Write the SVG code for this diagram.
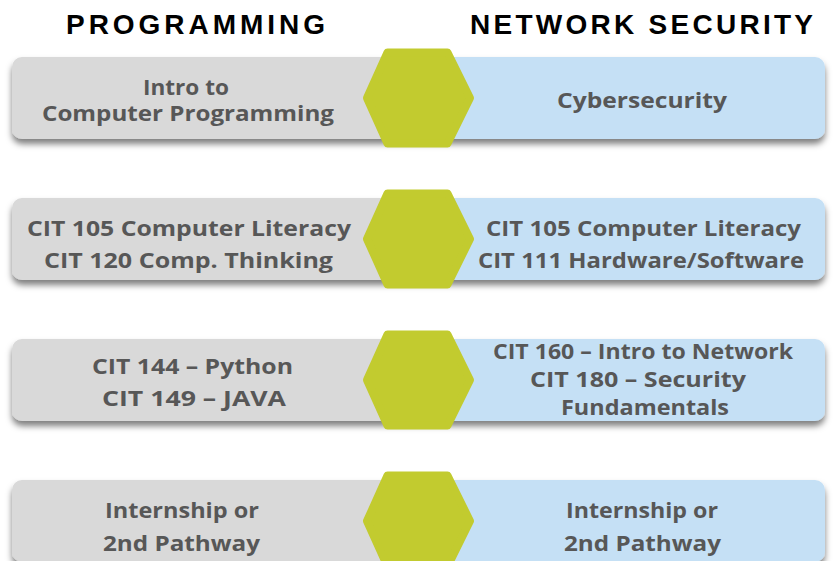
<svg xmlns="http://www.w3.org/2000/svg" width="833" height="561" viewBox="0 0 833 561">
<defs>
<style>
.title{font-family:"Liberation Sans",Arial,sans-serif;font-weight:bold;font-size:28px;fill:#000}
.t{font-family:"Open Sans","Liberation Sans",Arial,sans-serif;font-weight:bold;font-size:22px;fill:#575757}
.gray{fill:#d9d9d9}
.blue{fill:#c5e0f5}
.hex{fill:#c2cb2f;stroke:#c2cb2f;stroke-width:8;stroke-linejoin:round}
</style>
<filter id="sh" x="-5%" y="-20%" width="110%" height="160%">
<feDropShadow dx="0" dy="5" stdDeviation="3" flood-color="#000" flood-opacity="0.5"/>
</filter>
<g id="bars">
<rect class="gray" x="12" y="0" width="420" height="82" rx="10"/>
<rect class="blue" x="410" y="0" width="415" height="82" rx="10"/>
</g>
<polygon id="hexshape" class="hex" points="367,41 387.5,-4.5 447.5,-4.5 470,41 447.5,86.5 387.5,86.5"/>
</defs>
<rect width="833" height="561" fill="#fff"/>
<g id="titles">
<text class="title" x="66" y="34" textLength="259" lengthAdjust="spacing">PROGRAMMING</text>
<text class="title" x="470" y="34" textLength="343" lengthAdjust="spacing">NETWORK SECURITY</text>
</g>
<g id="connectors"></g>
<g id="row1">
<use href="#bars" y="57" filter="url(#sh)"/>
<use href="#hexshape" y="57"/>
<text class="t" x="143" y="95" textLength="86" lengthAdjust="spacingAndGlyphs">Intro to</text>
<text class="t" x="42" y="121" textLength="292" lengthAdjust="spacingAndGlyphs">Computer Programming</text>
<text class="t" x="557" y="108" textLength="170" lengthAdjust="spacingAndGlyphs">Cybersecurity</text>
</g>
<g id="row2">
<use href="#bars" y="198" filter="url(#sh)"/>
<use href="#hexshape" y="198"/>
<text class="t" x="27" y="236" textLength="324" lengthAdjust="spacingAndGlyphs">CIT 105 Computer Literacy</text>
<text class="t" x="44" y="268" textLength="289" lengthAdjust="spacingAndGlyphs">CIT 120 Comp. Thinking</text>
<text class="t" x="486" y="236" textLength="315" lengthAdjust="spacingAndGlyphs">CIT 105 Computer Literacy</text>
<text class="t" x="478" y="268" textLength="326" lengthAdjust="spacingAndGlyphs">CIT 111 Hardware/Software</text>
</g>
<g id="row3">
<use href="#bars" y="339" filter="url(#sh)"/>
<use href="#hexshape" y="339"/>
<text class="t" x="92" y="374" textLength="201" lengthAdjust="spacingAndGlyphs">CIT 144 – Python</text>
<text class="t" x="102" y="406" textLength="184" lengthAdjust="spacingAndGlyphs">CIT 149 – JAVA</text>
<text class="t" x="493" y="359" textLength="300" lengthAdjust="spacingAndGlyphs">CIT 160 – Intro to Network</text>
<text class="t" x="530" y="387" textLength="216" lengthAdjust="spacingAndGlyphs">CIT 180 – Security</text>
<text class="t" x="561" y="415" textLength="168" lengthAdjust="spacingAndGlyphs">Fundamentals</text>
</g>
<g id="row4">
<use href="#bars" y="480" filter="url(#sh)"/>
<use href="#hexshape" y="480"/>
<text class="t" x="105" y="518" textLength="154" lengthAdjust="spacingAndGlyphs">Internship or</text>
<text class="t" x="103" y="551" textLength="157" lengthAdjust="spacingAndGlyphs">2nd Pathway</text>
<text class="t" x="566" y="518" textLength="152" lengthAdjust="spacingAndGlyphs">Internship or</text>
<text class="t" x="564" y="551" textLength="157" lengthAdjust="spacingAndGlyphs">2nd Pathway</text>
</g>
</svg>
